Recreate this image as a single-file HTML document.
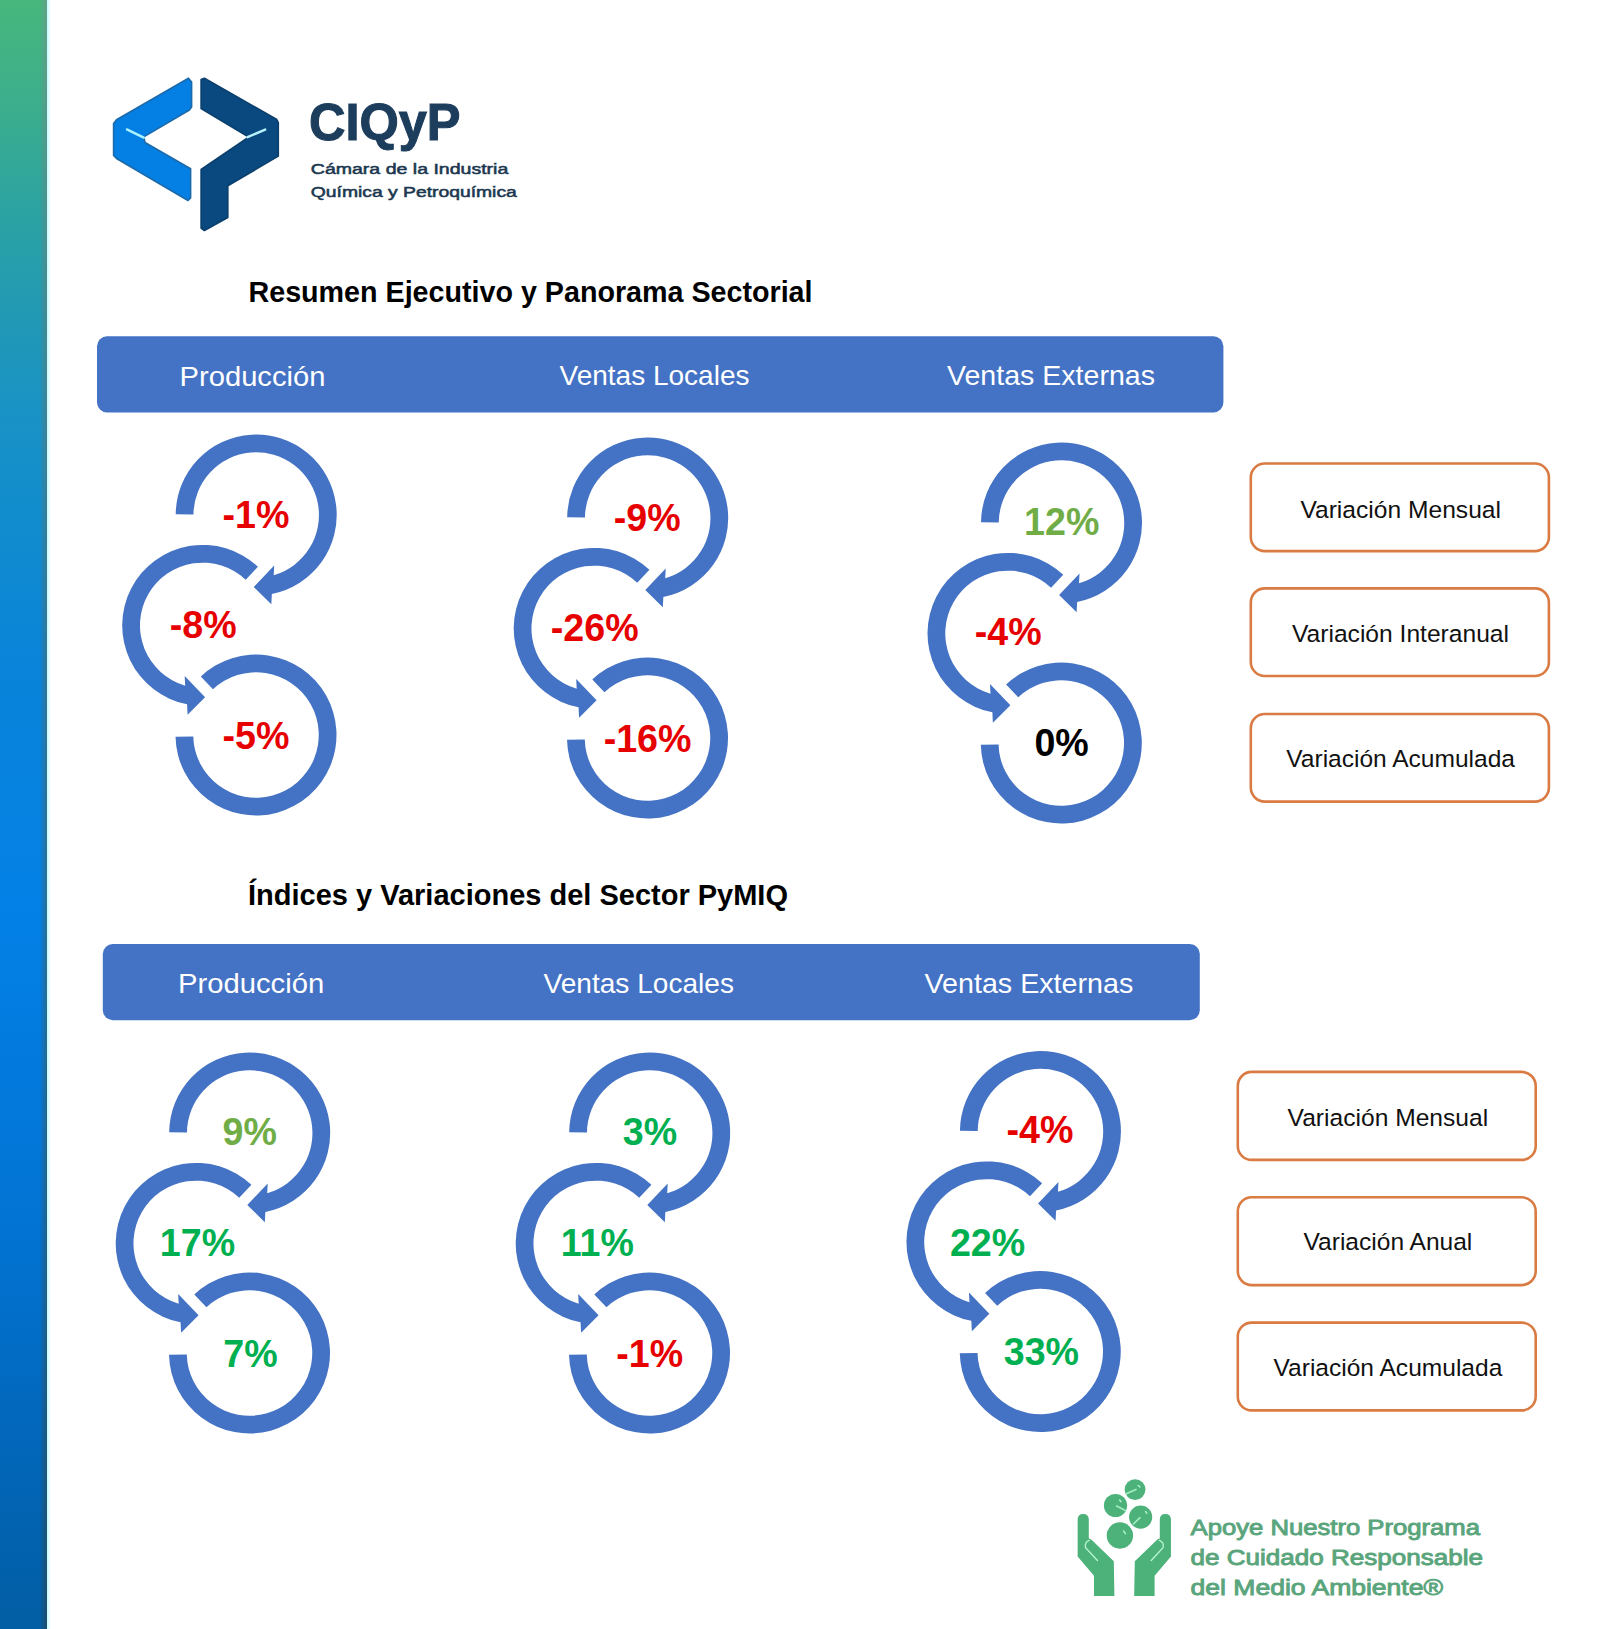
<!DOCTYPE html>
<html><head><meta charset="utf-8"><title>CIQyP</title>
<style>
html,body{margin:0;padding:0;background:#fff;width:1600px;height:1629px;overflow:hidden;}
svg{display:block;font-family:"Liberation Sans",sans-serif;}
</style></head>
<body>
<svg width="1600" height="1629" viewBox="0 0 1600 1629">
<rect width="1600" height="1629" fill="#fff"/>
<defs>
<linearGradient id="strip" x1="0" y1="0" x2="0" y2="1">
<stop offset="0" stop-color="#47b77d"/>
<stop offset="0.064" stop-color="#3cae8c"/>
<stop offset="0.135" stop-color="#2aa2a4"/>
<stop offset="0.193" stop-color="#2299b4"/>
<stop offset="0.258" stop-color="#1892c6"/>
<stop offset="0.341" stop-color="#0f8ad0"/>
<stop offset="0.411" stop-color="#0984da"/>
<stop offset="0.565" stop-color="#0380e6"/>
<stop offset="0.749" stop-color="#0274d4"/>
<stop offset="0.869" stop-color="#0268bd"/>
<stop offset="1" stop-color="#025ea4"/>
</linearGradient>
<linearGradient id="edgecol" x1="0" y1="0" x2="0" y2="1">
<stop offset="0" stop-color="#818993"/>
<stop offset="0.26" stop-color="#706e58"/>
<stop offset="0.56" stop-color="#515c3a"/>
<stop offset="1" stop-color="#3a3d2e"/>
</linearGradient>
<linearGradient id="edgeramp" x1="0" y1="0" x2="1" y2="0">
<stop offset="0" stop-color="#fff" stop-opacity="0"/>
<stop offset="1" stop-color="#fff" stop-opacity="0.5"/>
</linearGradient>
<mask id="edgemask" maskUnits="userSpaceOnUse" x="0" y="0" width="60" height="1629">
<rect x="40" y="0" width="7" height="1629" fill="url(#edgeramp)"/>
</mask>
<linearGradient id="fringe" x1="0" y1="0" x2="1" y2="0">
<stop offset="0" stop-color="#c4fbff"/>
<stop offset="1" stop-color="#ffffff"/>
</linearGradient>
</defs>
<rect x="0" y="0" width="47" height="1629" fill="url(#strip)"/>
<rect x="40" y="0" width="7" height="1629" fill="url(#edgecol)" mask="url(#edgemask)"/>
<rect x="47" y="0" width="4" height="1629" fill="url(#fringe)"/>
<polygon points="188.50,78.20 191.60,82.00 191.60,107.00 189.40,110.00 143.75,136.90 145.00,142.50 190.60,168.75 190.60,198.00 188.00,200.50 116.50,158.50 113.60,155.50 113.60,123.50 116.50,119.80" fill="#047fe4" stroke="#1c6aaa" stroke-width="1.6" stroke-linejoin="round"/>
<polygon points="201.10,79.50 204.40,78.20 276.80,119.50 278.30,122.50 278.30,156.10 227.80,185.80 227.80,217.50 204.40,230.50 201.10,228.00 201.10,169.50 247.50,137.80 247.50,136.20 201.10,108.60" fill="#09497f" stroke="#0b3f6c" stroke-width="1.6" stroke-linejoin="round"/>
<polyline points="126.90,129.40 143.75,137.60" stroke="#aaf6ff" stroke-width="2.4" stroke-linecap="round" fill="none"/>
<polyline points="247.50,137.20 265.20,129.60" stroke="#b8f2ff" stroke-width="2.4" stroke-linecap="round" fill="none"/>
<text x="309" y="140.3" font-family="Liberation Sans" font-weight="bold" font-size="51" fill="#1d3d5c" stroke="#1d3d5c" stroke-width="1.1" textLength="151.5" lengthAdjust="spacingAndGlyphs">CIQyP</text>
<text x="310.8" y="173.6" font-family="Liberation Sans" font-size="15.2" fill="#1c3850" stroke="#1c3850" stroke-width="0.55" textLength="197.5" lengthAdjust="spacingAndGlyphs">Cámara de la Industria</text>
<text x="310.8" y="196.6" font-family="Liberation Sans" font-size="15.2" fill="#1c3850" stroke="#1c3850" stroke-width="0.55" textLength="206" lengthAdjust="spacingAndGlyphs">Química y Petroquímica</text>
<text x="248.5" y="302.3" font-family="Liberation Sans" font-weight="bold" font-size="28.6" fill="#000" textLength="564" lengthAdjust="spacingAndGlyphs">Resumen Ejecutivo y Panorama Sectorial</text>
<text x="248" y="904.6" font-family="Liberation Sans" font-weight="bold" font-size="28.6" fill="#000" textLength="540" lengthAdjust="spacingAndGlyphs">Índices y Variaciones del Sector PyMIQ</text>
<rect x="97" y="336.3" width="1126.4" height="76.2" rx="10" fill="#4472c4"/>
<rect x="102.8" y="944" width="1097" height="76.2" rx="10" fill="#4472c4"/>
<text x="179.5" y="385.5" font-family="Liberation Sans" font-size="28.5" fill="#fff" textLength="146.0" lengthAdjust="spacingAndGlyphs">Producción</text>
<text x="559.5" y="385.25" font-family="Liberation Sans" font-size="28.5" fill="#fff" textLength="190.0" lengthAdjust="spacingAndGlyphs">Ventas Locales</text>
<text x="947" y="384.8" font-family="Liberation Sans" font-size="28.5" fill="#fff" textLength="208" lengthAdjust="spacingAndGlyphs">Ventas Externas</text>
<text x="177.9" y="992.8" font-family="Liberation Sans" font-size="28.5" fill="#fff" textLength="146.29999999999998" lengthAdjust="spacingAndGlyphs">Producción</text>
<text x="543.5" y="992.8" font-family="Liberation Sans" font-size="28.5" fill="#fff" textLength="190.5" lengthAdjust="spacingAndGlyphs">Ventas Locales</text>
<text x="924.5" y="992.8" font-family="Liberation Sans" font-size="28.5" fill="#fff" textLength="208.79999999999995" lengthAdjust="spacingAndGlyphs">Ventas Externas</text>
<path d="M175.70,514.30 A80.5,80.5 0 1 1 271.84,593.97 L271.31,604.33 L253.81,586.96 L274.21,565.59 L273.71,575.26 A62.75,62.75 0 1 0 193.45,514.45 Z" fill="#4472c4"/>
<path d="M257.91,566.81 A80.5,80.5 0 1 0 187.06,704.37 L187.59,714.73 L205.09,697.36 L184.69,675.99 L185.19,685.66 A62.75,62.75 0 1 1 245.74,579.73 Z" fill="#4472c4"/>
<path d="M200.79,676.41 A80.5,80.5 0 1 1 175.52,736.83 L193.27,736.42 A62.75,62.75 0 1 0 212.96,689.33 Z" fill="#4472c4"/>
<text x="255.9" y="527.75" text-anchor="middle" font-family="Liberation Sans" font-weight="bold" font-size="38" fill="#e60000" transform="translate(255.9 0) scale(0.99 1) translate(-255.9 0)">-1%</text>
<text x="203.2" y="637.7" text-anchor="middle" font-family="Liberation Sans" font-weight="bold" font-size="38" fill="#e60000" transform="translate(203.2 0) scale(0.99 1) translate(-203.2 0)">-8%</text>
<text x="256.0" y="749.2" text-anchor="middle" font-family="Liberation Sans" font-weight="bold" font-size="38" fill="#e60000" transform="translate(256.0 0) scale(0.99 1) translate(-256.0 0)">-5%</text>
<path d="M567.20,517.30 A80.5,80.5 0 1 1 663.34,596.97 L662.81,607.33 L645.31,589.96 L665.71,568.59 L665.21,578.26 A62.75,62.75 0 1 0 584.95,517.45 Z" fill="#4472c4"/>
<path d="M649.41,569.81 A80.5,80.5 0 1 0 578.56,707.37 L579.09,717.73 L596.59,700.36 L576.19,678.99 L576.69,688.66 A62.75,62.75 0 1 1 637.24,582.73 Z" fill="#4472c4"/>
<path d="M592.29,679.41 A80.5,80.5 0 1 1 567.02,739.83 L584.77,739.42 A62.75,62.75 0 1 0 604.46,692.33 Z" fill="#4472c4"/>
<text x="647.25" y="530.7" text-anchor="middle" font-family="Liberation Sans" font-weight="bold" font-size="38" fill="#e60000" transform="translate(647.25 0) scale(0.99 1) translate(-647.25 0)">-9%</text>
<text x="594.75" y="641.5" text-anchor="middle" font-family="Liberation Sans" font-weight="bold" font-size="38" fill="#e60000" transform="translate(594.75 0) scale(0.99 1) translate(-594.75 0)">-26%</text>
<text x="647.6" y="752.2" text-anchor="middle" font-family="Liberation Sans" font-weight="bold" font-size="38" fill="#e60000" transform="translate(647.6 0) scale(0.99 1) translate(-647.6 0)">-16%</text>
<path d="M981.00,522.30 A80.5,80.5 0 1 1 1077.14,601.97 L1076.61,612.33 L1059.11,594.96 L1079.51,573.59 L1079.01,583.26 A62.75,62.75 0 1 0 998.75,522.45 Z" fill="#4472c4"/>
<path d="M1063.21,574.81 A80.5,80.5 0 1 0 992.36,712.37 L992.89,722.73 L1010.39,705.36 L989.99,683.99 L990.49,693.66 A62.75,62.75 0 1 1 1051.04,587.73 Z" fill="#4472c4"/>
<path d="M1006.09,684.41 A80.5,80.5 0 1 1 980.82,744.83 L998.57,744.42 A62.75,62.75 0 1 0 1018.26,697.33 Z" fill="#4472c4"/>
<text x="1061.7" y="535.2" text-anchor="middle" font-family="Liberation Sans" font-weight="bold" font-size="38" fill="#70ad47" transform="translate(1061.7 0) scale(0.99 1) translate(-1061.7 0)">12%</text>
<text x="1008.2" y="645.2" text-anchor="middle" font-family="Liberation Sans" font-weight="bold" font-size="38" fill="#e60000" transform="translate(1008.2 0) scale(0.99 1) translate(-1008.2 0)">-4%</text>
<text x="1061.6" y="756.0" text-anchor="middle" font-family="Liberation Sans" font-weight="bold" font-size="38" fill="#000000" transform="translate(1061.6 0) scale(0.99 1) translate(-1061.6 0)">0%</text>
<path d="M169.20,1132.30 A80.5,80.5 0 1 1 265.34,1211.97 L264.81,1222.33 L247.31,1204.96 L267.71,1183.59 L267.21,1193.26 A62.75,62.75 0 1 0 186.95,1132.45 Z" fill="#4472c4"/>
<path d="M251.41,1184.81 A80.5,80.5 0 1 0 180.56,1322.37 L181.09,1332.73 L198.59,1315.36 L178.19,1293.99 L178.69,1303.66 A62.75,62.75 0 1 1 239.24,1197.73 Z" fill="#4472c4"/>
<path d="M194.29,1294.41 A80.5,80.5 0 1 1 169.02,1354.83 L186.77,1354.42 A62.75,62.75 0 1 0 206.46,1307.33 Z" fill="#4472c4"/>
<text x="249.75" y="1145.2" text-anchor="middle" font-family="Liberation Sans" font-weight="bold" font-size="38" fill="#70ad47" transform="translate(249.75 0) scale(0.99 1) translate(-249.75 0)">9%</text>
<text x="197.5" y="1256.0" text-anchor="middle" font-family="Liberation Sans" font-weight="bold" font-size="38" fill="#00b050" transform="translate(197.5 0) scale(0.99 1) translate(-197.5 0)">17%</text>
<text x="250.4" y="1366.7" text-anchor="middle" font-family="Liberation Sans" font-weight="bold" font-size="38" fill="#00b050" transform="translate(250.4 0) scale(0.99 1) translate(-250.4 0)">7%</text>
<path d="M569.20,1132.30 A80.5,80.5 0 1 1 665.34,1211.97 L664.81,1222.33 L647.31,1204.96 L667.71,1183.59 L667.21,1193.26 A62.75,62.75 0 1 0 586.95,1132.45 Z" fill="#4472c4"/>
<path d="M651.41,1184.81 A80.5,80.5 0 1 0 580.56,1322.37 L581.09,1332.73 L598.59,1315.36 L578.19,1293.99 L578.69,1303.66 A62.75,62.75 0 1 1 639.24,1197.73 Z" fill="#4472c4"/>
<path d="M594.29,1294.41 A80.5,80.5 0 1 1 569.02,1354.83 L586.77,1354.42 A62.75,62.75 0 1 0 606.46,1307.33 Z" fill="#4472c4"/>
<text x="650.0" y="1145.0" text-anchor="middle" font-family="Liberation Sans" font-weight="bold" font-size="38" fill="#00b050" transform="translate(650.0 0) scale(0.99 1) translate(-650.0 0)">3%</text>
<text x="597.3" y="1256.0" text-anchor="middle" font-family="Liberation Sans" font-weight="bold" font-size="38" fill="#00b050" transform="translate(597.3 0) scale(0.99 1) translate(-597.3 0)">11%</text>
<text x="649.75" y="1366.7" text-anchor="middle" font-family="Liberation Sans" font-weight="bold" font-size="38" fill="#e60000" transform="translate(649.75 0) scale(0.99 1) translate(-649.75 0)">-1%</text>
<path d="M959.95,1130.80 A80.5,80.5 0 1 1 1056.09,1210.47 L1055.56,1220.83 L1038.06,1203.46 L1058.46,1182.09 L1057.96,1191.76 A62.75,62.75 0 1 0 977.70,1130.95 Z" fill="#4472c4"/>
<path d="M1042.16,1183.31 A80.5,80.5 0 1 0 971.31,1320.87 L971.84,1331.23 L989.34,1313.86 L968.94,1292.49 L969.44,1302.16 A62.75,62.75 0 1 1 1029.99,1196.23 Z" fill="#4472c4"/>
<path d="M985.04,1292.91 A80.5,80.5 0 1 1 959.77,1353.33 L977.52,1352.92 A62.75,62.75 0 1 0 997.21,1305.83 Z" fill="#4472c4"/>
<text x="1040.0" y="1143.2" text-anchor="middle" font-family="Liberation Sans" font-weight="bold" font-size="38" fill="#e60000" transform="translate(1040.0 0) scale(0.99 1) translate(-1040.0 0)">-4%</text>
<text x="987.55" y="1256.5" text-anchor="middle" font-family="Liberation Sans" font-weight="bold" font-size="38" fill="#00b050" transform="translate(987.55 0) scale(0.99 1) translate(-987.55 0)">22%</text>
<text x="1041.4" y="1364.7" text-anchor="middle" font-family="Liberation Sans" font-weight="bold" font-size="38" fill="#00b050" transform="translate(1041.4 0) scale(0.99 1) translate(-1041.4 0)">33%</text>
<rect x="1250.80" y="463.50" width="298.10" height="87.60" rx="14" fill="#fff" stroke="#d97b42" stroke-width="2.6"/>
<rect x="1250.80" y="588.40" width="298.10" height="87.60" rx="14" fill="#fff" stroke="#d97b42" stroke-width="2.6"/>
<rect x="1250.80" y="714.00" width="298.10" height="87.60" rx="14" fill="#fff" stroke="#d97b42" stroke-width="2.6"/>
<text x="1300.4" y="517.7" font-family="Liberation Sans" font-size="24.5" fill="#111" textLength="200.5999999999999" lengthAdjust="spacingAndGlyphs">Variación Mensual</text>
<text x="1292" y="641.9" font-family="Liberation Sans" font-size="24.5" fill="#111" textLength="217" lengthAdjust="spacingAndGlyphs">Variación Interanual</text>
<text x="1286.3" y="766.8" font-family="Liberation Sans" font-size="24.5" fill="#111" textLength="228.70000000000005" lengthAdjust="spacingAndGlyphs">Variación Acumulada</text>
<rect x="1237.80" y="1071.90" width="297.90" height="88.00" rx="14" fill="#fff" stroke="#d97b42" stroke-width="2.6"/>
<rect x="1237.80" y="1197.30" width="297.90" height="87.80" rx="14" fill="#fff" stroke="#d97b42" stroke-width="2.6"/>
<rect x="1237.80" y="1322.60" width="297.90" height="87.80" rx="14" fill="#fff" stroke="#d97b42" stroke-width="2.6"/>
<text x="1287.6" y="1126.3" font-family="Liberation Sans" font-size="24.5" fill="#111" textLength="200.60000000000014" lengthAdjust="spacingAndGlyphs">Variación Mensual</text>
<text x="1303.5" y="1250.3" font-family="Liberation Sans" font-size="24.5" fill="#111" textLength="168.79999999999995" lengthAdjust="spacingAndGlyphs">Variación Anual</text>
<text x="1273.5" y="1375.7" font-family="Liberation Sans" font-size="24.5" fill="#111" textLength="228.79999999999995" lengthAdjust="spacingAndGlyphs">Variación Acumulada</text>
<path d="M1077.65,1519.5 Q1077.65,1513.9 1083.20,1513.9 Q1088.80,1513.9 1088.80,1519.5 L1088.80,1538.6 Q1089.80,1538.4 1092.30,1540.6 L1113.80,1561.2 L1114.40,1595.9 L1094.00,1595.9 L1094.00,1575.8 L1077.65,1556.6 Z" fill="#4cb27a"/>
<path d="M1170.95,1519.5 Q1170.95,1513.9 1165.40,1513.9 Q1159.80,1513.9 1159.80,1519.5 L1159.80,1538.6 Q1158.80,1538.4 1156.30,1540.6 L1134.80,1561.2 L1134.20,1595.9 L1154.60,1595.9 L1154.60,1575.8 L1170.95,1556.6 Z" fill="#4cb27a"/>
<circle cx="1135.06" cy="1489.56" r="10.40" fill="#4cb27a"/>
<circle cx="1115.50" cy="1505.50" r="11.60" fill="#4cb27a"/>
<circle cx="1140.65" cy="1517.10" r="11.60" fill="#4cb27a"/>
<circle cx="1119.90" cy="1535.46" r="13.20" fill="#4cb27a"/>
<path d="M1097.40,1560.5 L1085.60,1547.8 Q1084.20,1542 1089.30,1540.4" fill="none" stroke="#b8f6d4" stroke-width="1.3" stroke-linecap="round"/>
<path d="M1151.20,1560.5 L1163.00,1547.8 Q1164.40,1542 1159.30,1540.4" fill="none" stroke="#b8f6d4" stroke-width="1.3" stroke-linecap="round"/>
<line x1="1126.2" y1="1493.8" x2="1136.0" y2="1489.4" stroke="#a6efc6" stroke-width="1.6" stroke-linecap="round"/>
<line x1="1116.6" y1="1506.0" x2="1125.6" y2="1510.6" stroke="#a6efc6" stroke-width="1.6" stroke-linecap="round"/>
<line x1="1133.4" y1="1524.0" x2="1140.0" y2="1517.6" stroke="#a6efc6" stroke-width="1.6" stroke-linecap="round"/>
<line x1="1123.6" y1="1531.0" x2="1125.4" y2="1533.6" stroke="#a6efc6" stroke-width="1.6" stroke-linecap="round"/>
<line x1="1138.2" y1="1485.6" x2="1140.0" y2="1486.8" stroke="#a6efc6" stroke-width="1.6" stroke-linecap="round"/>
<line x1="1119.6" y1="1500.0" x2="1121.0" y2="1501.6" stroke="#a6efc6" stroke-width="1.6" stroke-linecap="round"/>
<line x1="1145.6" y1="1511.6" x2="1146.8" y2="1513.2" stroke="#a6efc6" stroke-width="1.6" stroke-linecap="round"/>
<text x="1190.6" y="1534.8" font-family="Liberation Sans" font-size="21.8" fill="#5aa57c" stroke="#5aa57c" stroke-width="0.9" textLength="289.4000000000001" lengthAdjust="spacingAndGlyphs">Apoye Nuestro Programa</text>
<text x="1190.6" y="1565" font-family="Liberation Sans" font-size="21.8" fill="#5aa57c" stroke="#5aa57c" stroke-width="0.9" textLength="292.4000000000001" lengthAdjust="spacingAndGlyphs">de Cuidado Responsable</text>
<text x="1190.6" y="1594.8" font-family="Liberation Sans" font-size="21.8" fill="#5aa57c" stroke="#5aa57c" stroke-width="0.9" textLength="252.4000000000001" lengthAdjust="spacingAndGlyphs">del Medio Ambiente®</text>
</svg>
</body></html>
